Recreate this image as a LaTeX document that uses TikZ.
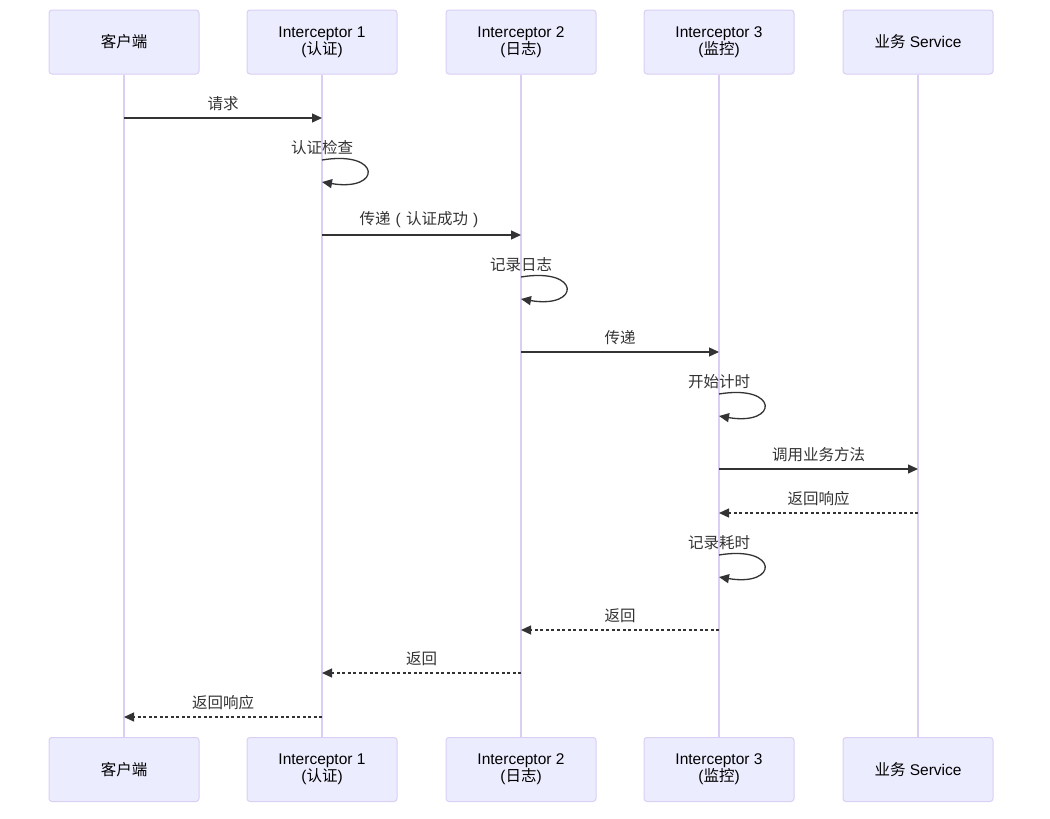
\documentclass[tikz,border=0pt]{standalone}
\usepackage{fontspec}
\setmainfont{Liberation Sans}
\newfontfamily\cjk{Noto Sans CJK SC}
\usepackage{tikz}
\usetikzlibrary{arrows.meta, positioning, calc}
\definecolor{actorfill}{HTML}{ECECFF}
\definecolor{actorline}{HTML}{DACEF3}
\definecolor{signal}{HTML}{333333}
\newcommand{\wparen}[1]{\makebox[1em]{\rmfamily #1}}

\tikzset{
  actor/.style={draw=actorline, fill=actorfill, rounded corners=3pt, line width=1pt,
    minimum width=150pt, minimum height=64pt, align=center, inner sep=0pt,
    font=\fontsize{15.5}{15.5}\selectfont},
  lifeline/.style={draw=actorline, line width=1.5pt},
  msg/.style={draw=signal, line width=1.3pt, -{Triangle[length=10pt,width=9pt]}},
  reply/.style={msg, dash pattern=on 3pt off 2.5pt},
  lbl/.style={text=signal, font=\cjk\fontsize{15.5}{15.5}\selectfont, inner sep=0pt},
}

\begin{document}
\begin{tikzpicture}[x=1pt, y=-1pt]
  \useasboundingbox (0,0) rectangle (1050,819);

  % actors, top row
  \node[actor] (c)  at (124,42) {\cjk 客户端};
  \node[actor] (i1) at (322,42) {Interceptor 1\\({\cjk 认证})};
  \node[actor] (i2) at (521,42) {Interceptor 2\\({\cjk 日志})};
  \node[actor] (i3) at (719,42) {Interceptor 3\\({\cjk 监控})};
  \node[actor] (s)  at (918,42) {{\cjk 业务} Service};

  % actors, bottom row
  \node[actor] (cb)  at (124,769.5) {\cjk 客户端};
  \node[actor] (i1b) at (322,769.5) {Interceptor 1\\({\cjk 认证})};
  \node[actor] (i2b) at (521,769.5) {Interceptor 2\\({\cjk 日志})};
  \node[actor] (i3b) at (719,769.5) {Interceptor 3\\({\cjk 监控})};
  \node[actor] (sb)  at (918,769.5) {{\cjk 业务} Service};

  % lifelines
  \draw[lifeline] (c) -- (cb);
  \draw[lifeline] (i1) -- (i1b);
  \draw[lifeline] (i2) -- (i2b);
  \draw[lifeline] (i3) -- (i3b);
  \draw[lifeline] (s) -- (sb);

  % message rows
  \coordinate (r1) at (0,118);
  \coordinate (r2) at (0,160);
  \coordinate (r3) at (0,235);
  \coordinate (r4) at (0,277);
  \coordinate (r5) at (0,352);
  \coordinate (r6) at (0,394);
  \coordinate (r7) at (0,469);
  \coordinate (r8) at (0,513);
  \coordinate (r9) at (0,555);
  \coordinate (r10) at (0,630);
  \coordinate (r11) at (0,673);
  \coordinate (r12) at (0,717);

  \draw[msg] (c |- r1) -- node[lbl, above=7pt] (m1) {请求} (i1 |- r1);

  \draw[msg] (i1 |- r2) .. controls +(60,-10) and +(60,10) .. ($(i1 |- r2)+(0,22)$);
  \node[lbl, above=5pt] (m2) at (i1 |- r2) {认证检查};

  \draw[msg] (i1 |- r3) -- node[lbl, above=7pt] (m3) {传递\wparen{(}认证成功\wparen{)}} (i2 |- r3);

  \draw[msg] (i2 |- r4) .. controls +(60,-10) and +(60,10) .. ($(i2 |- r4)+(0,22)$);
  \node[lbl, above=5pt] (m4) at (i2 |- r4) {记录日志};

  \draw[msg] (i2 |- r5) -- node[lbl, above=7pt] (m5) {传递} (i3 |- r5);

  \draw[msg] (i3 |- r6) .. controls +(60,-10) and +(60,10) .. ($(i3 |- r6)+(0,22)$);
  \node[lbl, above=5pt] (m6) at (i3 |- r6) {开始计时};

  \draw[msg] (i3 |- r7) -- node[lbl, above=7pt] (m7) {调用业务方法} (s |- r7);
  \draw[reply] (s |- r8) -- node[lbl, above=7pt] (m8) {返回响应} (i3 |- r8);

  \draw[msg] (i3 |- r9) .. controls +(60,-10) and +(60,10) .. ($(i3 |- r9)+(0,22)$);
  \node[lbl, above=5pt] (m9) at (i3 |- r9) {记录耗时};

  \draw[reply] (i3 |- r10) -- node[lbl, above=7pt] (m10) {返回} (i2 |- r10);
  \draw[reply] (i2 |- r11) -- node[lbl, above=7pt] (m11) {返回} (i1 |- r11);
  \draw[reply] (i1 |- r12) -- node[lbl, above=7pt] (m12) {返回响应} (c |- r12);
\end{tikzpicture}
\end{document}
